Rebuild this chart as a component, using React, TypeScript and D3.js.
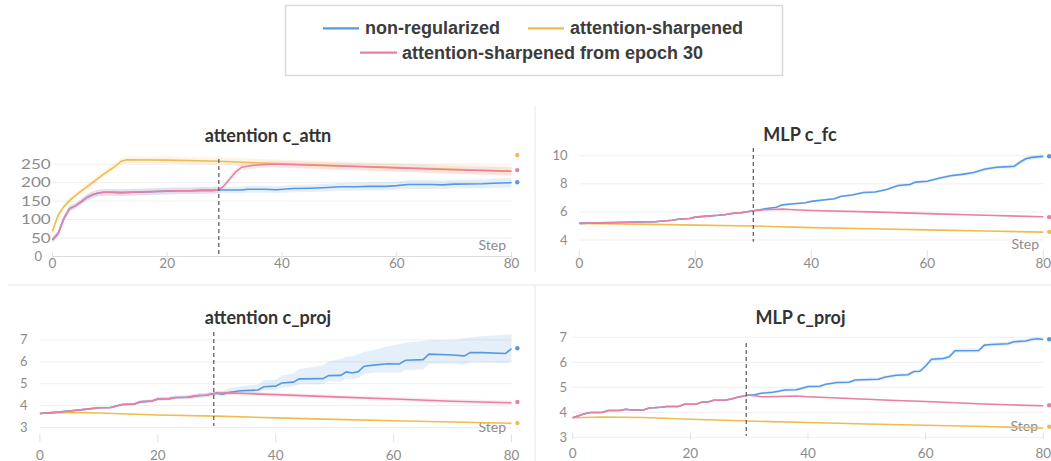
import React from 'react';
import * as d3 from 'd3';

type Pt = [number, number, number, number?];

const xTicks = [0, 20, 40, 60, 80];

// ---------- attention c_attn ----------
const caTicks = [0, 50, 100, 150, 200, 250];
const caShared: Pt[] = [[0,45,8],[1,62,8],[2,103,8],[3,130,8],[4,137,8],[5,148,8],[6,160,9],[7,167,9],[8,172,9],[9,174,9],[10,174,9],[12,173,9],[14,174,9],[16,175,9],[18,176,9],[20,177,9],[22,178,9],[24,178,9],[26,179,9],[28,179,9],[29,180,9]];
const caBlue: Pt[] = [[29,180,9],[33,180,9],[34,182,9],[37,182,9],[39,181,9],[42,184,10],[45,185,10],[48,187,10],[50,189,10],[53,189,11],[55,190,11],[58,190,11],[60,192,11],[62,195,12],[66,195,12],[68,194,12],[70,196,12],[75,197,12],[78,199,13],[80,200,13]];
const caPink: Pt[] = [[29,180,9],[30,193,9],[31,212,9],[32,230,9],[33,242,9],[35,247,9],[38,250,9],[40,250,9],[50,245,9],[60,240,10],[70,235,10],[80,231,11]];
const caYellow: Pt[] = [[0,68,6],[1,112,7],[2,135,8],[3,152,8],[4,165,8],[5,177,8],[7,200,8],[9,224,9],[11,245,9],[12,258,9],[13,262,9],[20,261,10],[29,258,10],[40,251,11],[60,241,12],[80,231,13]];
const caEnd = [201, 234, 275];

// ---------- MLP c_fc ----------
const fcTicks = [4, 6, 8, 10];
const fcShared: Pt[] = [[0,5.18,.03],[3,5.22,.03],[6,5.25,.03],[10,5.28,.03],[13,5.3,.03],[16,5.4,.04],[17,5.48,.04],[19,5.53,.04],[20,5.63,.04],[22,5.7,.04],[24,5.76,.04],[25,5.8,.04],[27,5.93,.05],[28,5.95,.05],[30,6.08,.05]];
const fcBlue: Pt[] = [[30,6.08,.05],[32,6.22,.06],[34,6.33,.06],[35,6.5,.07],[37,6.58,.07],[39,6.65,.07],[40,6.75,.07],[42,6.85,.08],[44,6.93,.08],[45,7.1,.08],[47,7.2,.08],[49,7.38,.09],[51,7.42,.09],[53,7.6,.09],[55,7.88,.1],[57,7.95,.1],[58,8.12,.1],[60,8.18,.1],[62,8.4,.11],[64,8.57,.11],[66,8.67,.11],[68,8.8,.12],[70,9.05,.12],[72,9.18,.13],[74,9.22,.13],[75,9.25,.14],[76,9.55,.15],[77,9.78,.15],[78,9.88,.15],[80,9.95,.15]];
const fcPink: Pt[] = [[30,6.08,.04],[32,6.15,.04],[35,6.2,.04],[37,6.15,.04],[40,6.1,.04],[50,6.0,.04],[60,5.88,.04],[70,5.76,.04],[80,5.65,.04]];
const fcYellow: Pt[] = [[0,5.18,.03],[10,5.13,.03],[20,5.06,.03],[30,5.0,.03],[40,4.88,.03],[50,4.8,.03],[60,4.72,.03],[70,4.64,.03],[80,4.56,.03]];
const fcEnd = [9.96, 5.63, 4.58];

// ---------- attention c_proj ----------
const cpTicks = [3, 4, 5, 6, 7];
const cpShared: Pt[] = [[0,3.64,.03],[3,3.7,.03],[5,3.75,.04],[8,3.84,.04],[10,3.9,.05],[12,3.91,.05],[13,3.98,.05],[14,4.05,.06],[16,4.07,.06],[17,4.17,.07],[19,4.21,.07],[20,4.3,.08],[22,4.32,.08],[23,4.37,.08],[25,4.38,.09],[26,4.42,.09],[27,4.46,.1],[28,4.47,.1],[30,4.57,.1]];
const cpBlue: Pt[] = [[30,4.57,.1,.12],[31,4.52,.1,.15],[32,4.6,.1,.18],[34,4.68,.12,.2],[37,4.71,.12,.25],[38,4.86,.15,.3],[40,4.89,.2,.3],[41,5.03,.2,.35],[43,5.07,.2,.4],[44,5.22,.25,.45],[48,5.23,.25,.6],[49,5.37,.25,.65],[51,5.38,.3,.75],[52,5.54,.3,.7],[53,5.49,.3,.75],[54,5.55,.3,.8],[55,5.8,.35,.65],[57,5.86,.35,.7],[59,5.91,.4,.8],[61,5.9,.4,.9],[62,6.07,.45,.8],[65,6.1,.45,.85],[66,6.35,.45,.65],[70,6.31,.4,.7],[72,6.27,.4,.8],[73,6.42,.45,.7],[75,6.42,.45,.75],[79,6.38,.45,.85],[80,6.6,.6,.67]];
const cpPink: Pt[] = [[30,4.57,.1],[32,4.58,.1],[35,4.55,.1],[40,4.5,.1],[50,4.4,.1],[60,4.3,.1],[70,4.2,.1],[80,4.13,.1]];
const cpYellow: Pt[] = [[0,3.64,.02],[5,3.69,.02],[10,3.66,.02],[20,3.57,.02],[30,3.52,.02],[40,3.44,.02],[50,3.37,.02],[60,3.31,.02],[70,3.25,.02],[80,3.19,.02]];
const cpEnd = [6.62, 4.17, 3.2];

// ---------- MLP c_proj ----------
const mpTicks = [3, 4, 5, 6, 7];
const mpShared: Pt[] = [[0,3.78,.03],[2,3.94,.03],[3,3.99,.03],[5,3.99,.03],[6,4.07,.03],[8,4.07,.03],[9,4.12,.03],[10,4.09,.03],[12,4.09,.03],[13,4.17,.03],[15,4.2,.03],[16,4.23,.03],[18,4.23,.03],[19,4.32,.03],[21,4.32,.03],[22,4.41,.03],[23,4.41,.03],[24,4.48,.03],[26,4.49,.03],[27,4.53,.03],[28,4.6,.04],[30,4.69,.04]];
const mpBlue: Pt[] = [[30,4.69,.05],[31,4.7,.05],[32,4.76,.05],[34,4.8,.05],[35,4.84,.06],[36,4.89,.06],[38,4.9,.06],[39,4.96,.06],[40,5.03,.06],[42,5.04,.06],[43,5.12,.06],[45,5.19,.07],[47,5.2,.07],[48,5.29,.07],[52,5.32,.07],[53,5.4,.07],[55,5.48,.07],[57,5.5,.07],[58,5.63,.08],[59,5.64,.08],[60,5.85,.08],[61,6.12,.08],[63,6.15,.08],[64,6.22,.08],[65,6.46,.08],[69,6.47,.08],[70,6.69,.08],[72,6.72,.08],[74,6.74,.08],[75,6.82,.08],[77,6.85,.08],[78,6.91,.08],[79,6.94,.08],[80,6.91,.08]];
const mpPink: Pt[] = [[30,4.69,.03],[32,4.62,.03],[35,4.63,.03],[38,4.65,.03],[40,4.62,.03],[45,4.57,.03],[50,4.52,.03],[55,4.47,.03],[60,4.43,.03],[65,4.38,.03],[70,4.33,.03],[75,4.29,.03],[80,4.26,.03]];
const mpYellow: Pt[] = [[0,3.78,.02],[5,3.81,.02],[12,3.79,.02],[20,3.72,.02],[30,3.65,.02],[40,3.59,.02],[50,3.53,.02],[60,3.48,.02],[70,3.43,.02],[80,3.37,.02]];
const mpEnd = [6.92, 4.28, 3.42];

const legendItems = ['non-regularized', 'attention-sharpened', 'attention-sharpened from epoch 30'];

const BLUE = '#5599e2';
const YELLOW = '#f1bc4e';
const PINK = '#e880a3';
const BLUE_F = 'rgba(85,153,226,0.16)';
const YELLOW_F = 'rgba(241,188,78,0.16)';
const PINK_F = 'rgba(232,128,163,0.14)';

const TICK_FONT = 'Lato, "Open Sans", sans-serif';
const TICK_FILL = '#8c8c8c';

interface PanelCfg {
  title: string;
  titleX: number; titleY: number;
  x0: number; x1: number;
  yDom: [number, number]; yRange: [number, number];
  ticks: number[];
  shared: Pt[]; blue: Pt[]; pink: Pt[]; yellow: Pt[]; end: number[];
  yLabelRight: number; xLabelY: number;
  yDigitWidth?: number; zeroLabelRight?: number;
  tickTop: number; tickBottom: number;
  stepX: number; stepY: number;
  dashStep: number; dashTop: number; dashBottom: number;
  baseLine?: boolean;
}

const panels: PanelCfg[] = [
  { title: 'attention c_attn', titleX: 268, titleY: 142, x0: 52.4, x1: 511.5, yDom: [0, 250], yRange: [256.5, 164.2], ticks: caTicks,
    shared: caShared, blue: caBlue, pink: caPink, yellow: caYellow, end: caEnd, yLabelRight: 50.7, xLabelY: 268,
    yDigitWidth: 9.9, zeroLabelRight: 42,
    tickTop: 252, tickBottom: 260, stepX: 506, stepY: 250, dashStep: 29, dashTop: 159, dashBottom: 256.5, baseLine: true },
  { title: 'MLP c_fc', titleX: 800, titleY: 141, x0: 579.3, x1: 1043.3, yDom: [4, 10], yRange: [240, 155.7], ticks: fcTicks,
    shared: fcShared, blue: fcBlue, pink: fcPink, yellow: fcYellow, end: fcEnd, yLabelRight: 567.5, xLabelY: 268,
    tickTop: 250, tickBottom: 259, stepX: 1039, stepY: 249, dashStep: 30, dashTop: 148, dashBottom: 241.7 },
  { title: 'attention c_proj', titleX: 268, titleY: 324, x0: 39.9, x1: 511.5, yDom: [4, 7], yRange: [405.6, 339.9], ticks: cpTicks,
    shared: cpShared, blue: cpBlue, pink: cpPink, yellow: cpYellow, end: cpEnd, yLabelRight: 27.5, xLabelY: 459.5,
    tickTop: 434, tickBottom: 442, stepX: 506, stepY: 431.5, dashStep: 29.5, dashTop: 332, dashBottom: 426 },
  { title: 'MLP c_proj', titleX: 800.5, titleY: 323.5, x0: 572.7, x1: 1043.3, yDom: [4, 7], yRange: [412.3, 337.3], ticks: mpTicks,
    shared: mpShared, blue: mpBlue, pink: mpPink, yellow: mpYellow, end: mpEnd, yLabelRight: 567, xLabelY: 458,
    tickTop: 432.5, tickBottom: 439, stepX: 1038, stepY: 431, dashStep: 29.5, dashTop: 343, dashBottom: 436 },
];

function Panel({ c }: { c: PanelCfg }) {
  const x = d3.scaleLinear().domain([0, 80]).range([c.x0, c.x1]);
  const y = d3.scaleLinear().domain(c.yDom).range(c.yRange);
  const line = d3.line<Pt>().x(d => x(d[0])).y(d => y(d[1]));
  const area = d3.area<Pt>().x(d => x(d[0]))
    .y0(d => y(d[1] - d[2]))
    .y1(d => y(d[1] + (d[3] ?? d[2])));
  const blueFull = [...c.shared, ...c.blue.slice(1)];
  const pinkFull = [...c.shared, ...c.pink.slice(1)];
  const colors = [BLUE, PINK, YELLOW];
  return (
    <g>
      {c.ticks.map(t => (
        <line key={'g' + t} x1={c.x0} x2={c.x1} y1={y(t)} y2={y(t)}
          stroke={c.baseLine && t === 0 ? '#dcdcdc' : '#efefef'} strokeWidth={1} />
      ))}
      {xTicks.map(t => (
        <line key={'xt' + t} x1={x(t)} x2={x(t)} y1={c.tickTop} y2={c.tickBottom} stroke="#e2e2e2" strokeWidth={1} />
      ))}
      {c.ticks.map(t => {
        const s = String(t);
        const right = t === 0 && c.zeroLabelRight !== undefined ? c.zeroLabelRight : c.yLabelRight;
        const extra = c.yDigitWidth && t !== 0 ? { textLength: s.length * c.yDigitWidth, lengthAdjust: 'spacingAndGlyphs' } : {};
        return (
          <text key={'yl' + t} x={right} y={y(t)} dy="0.35em" textAnchor="end"
            fontFamily={TICK_FONT} fontSize={13} fill={TICK_FILL} {...extra}>{s}</text>
        );
      })}
      {xTicks.map(t => (
        <text key={'xl' + t} x={x(t)} y={c.xLabelY} textAnchor="middle"
          fontFamily={TICK_FONT} fontSize={13.5} fill={TICK_FILL}>{t}</text>
      ))}
      <text x={c.stepX} y={c.stepY} textAnchor="end" fontFamily={TICK_FONT} fontSize={14} fill={TICK_FILL}>Step</text>
      <path d={area(c.yellow) || ''} fill={YELLOW_F} />
      <path d={area(blueFull) || ''} fill={BLUE_F} />
      <path d={area(pinkFull) || ''} fill={PINK_F} />
      <path d={line(c.yellow) || ''} fill="none" stroke={YELLOW} strokeWidth={1.6} />
      <path d={line(blueFull) || ''} fill="none" stroke={BLUE} strokeWidth={1.6} />
      <path d={line(pinkFull) || ''} fill="none" stroke={PINK} strokeWidth={1.6} />
      <line x1={x(c.dashStep)} x2={x(c.dashStep)} y1={c.dashTop} y2={c.dashBottom}
        stroke="#555" strokeWidth={1.2} strokeDasharray="4,3" />
      {c.end.map((v, i) => (
        <circle key={'e' + i} cx={x(81)} cy={y(v)} r={2.2} fill={colors[i]} />
      ))}
      <text x={c.titleX} y={c.titleY} textAnchor="middle" fontFamily="Lato, sans-serif"
        fontWeight={700} fontSize={18} fill="#333">{c.title}</text>
    </g>
  );
}

export default function App() {
  const LF = '"Liberation Sans", Arial, sans-serif';
  return (
    <svg width={1051} height={461} style={{ position: 'absolute', left: 0, top: 0, background: '#fff' }}>
      <rect x={0} y={0} width={1051} height={461} fill="#fff" />
      <rect x={285.5} y={5.5} width={497} height={70} fill="#fff" stroke="#d9d9d9" strokeWidth={1.5} />
      <line x1={323} x2={359} y1={28.3} y2={28.3} stroke={BLUE} strokeWidth={2.2} />
      <text x={365} y={34} fontFamily={LF} fontWeight={700} fontSize={18} fill="#3c3c3c">{legendItems[0]}</text>
      <line x1={528} x2={564} y1={28.3} y2={28.3} stroke={YELLOW} strokeWidth={2.2} />
      <text x={570} y={34} fontFamily={LF} fontWeight={700} fontSize={18} fill="#3c3c3c">{legendItems[1]}</text>
      <line x1={360} x2={397} y1={52.7} y2={52.7} stroke={PINK} strokeWidth={2.2} />
      <text x={402} y={58.5} fontFamily={LF} fontWeight={700} fontSize={18} fill="#3c3c3c">{legendItems[2]}</text>
      <line x1={535} x2={535} y1={106} y2={272} stroke="#e6e6e6" strokeWidth={1} />
      <line x1={535} x2={535} y1={285} y2={461} stroke="#e6e6e6" strokeWidth={1} />
      <line x1={8} x2={1051} y1={285} y2={285} stroke="#e6e6e6" strokeWidth={1} />
      {panels.map((p, i) => <Panel key={i} c={p} />)}
    </svg>
  );
}
